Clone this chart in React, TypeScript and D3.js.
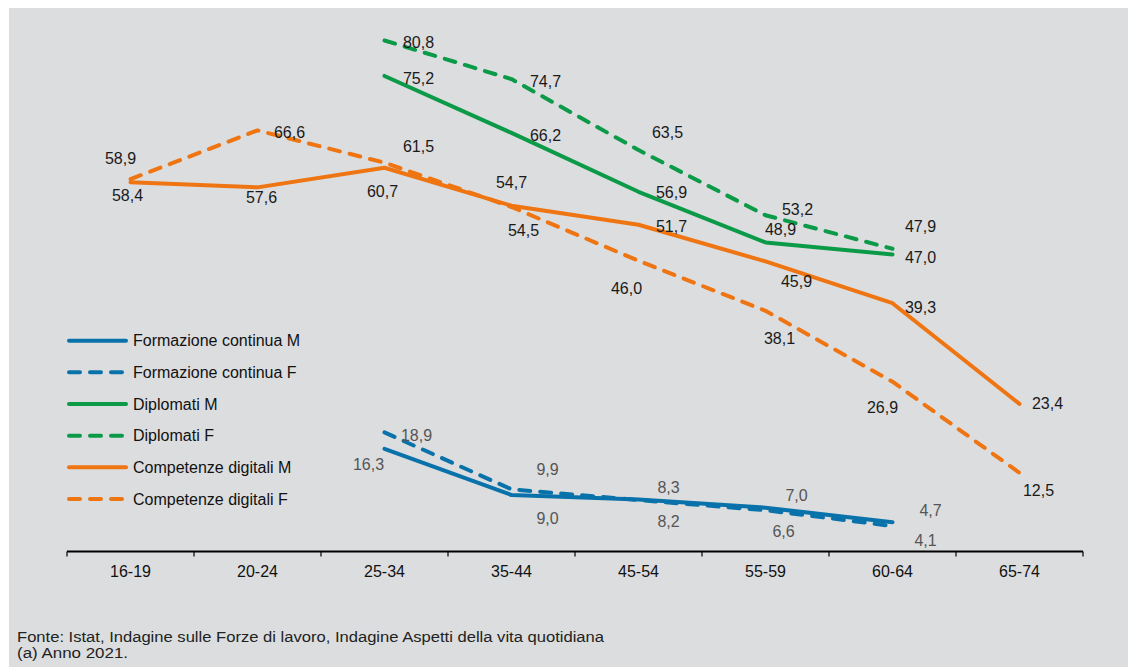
import React from "react";
import * as d3 from "d3";

const ageGroups = ["16-19", "20-24", "25-34", "35-44", "45-54", "55-59", "60-64", "65-74"];

// null = no value for that age group
const formazioneM = [null, null, 16.3, 9.0, 8.3, 7.0, 4.7, null];
const formazioneF = [null, null, 18.9, 9.9, 8.2, 6.6, 4.1, null];
const diplomatiM = [null, null, 75.2, 66.2, 56.9, 48.9, 47.0, null];
const diplomatiF = [null, null, 80.8, 74.7, 63.5, 53.2, 47.9, null];
const digitaliM = [58.4, 57.6, 60.7, 54.7, 51.7, 45.9, 39.3, 23.4];
const digitaliF = [58.9, 66.6, 61.5, 54.5, 46.0, 38.1, 26.9, 12.5];

const seriesNames = [
  "Formazione continua M",
  "Formazione continua F",
  "Diplomati M",
  "Diplomati F",
  "Competenze digitali M",
  "Competenze digitali F",
];

const footnotes = [
  "Fonte: Istat, Indagine sulle Forze di lavoro, Indagine Aspetti della vita quotidiana",
  "(a) Anno 2021.",
];

// label offsets (dx, dy) from each point, as placed in the original
const labelOffsets: Record<string, [number, number][]> = {
  formazioneM: [[0, 0], [0, 0], [-16, 16], [36, 23], [30, -12], [31, -12], [38, -12], [0, 0]],
  formazioneF: [[0, 0], [0, 0], [32, 3], [36, -20], [30, 21], [18, 21], [33, 14], [0, 0]],
  diplomatiM: [[0, 0], [0, 0], [34, 2], [34, 2], [33, 1], [15, -13], [28, 3], [0, 0]],
  diplomatiF: [[0, 0], [0, 0], [34, 2], [34, 2], [29, -18], [32, -6], [28, -22], [0, 0]],
  digitaliM: [[-3, 13], [4, 10], [-2, 24], [0, -23], [33, 2], [31, 20], [28, 4], [28, 0]],
  digitaliF: [[-10, -21], [32, 2], [34, -16], [12, 23], [-12, 28], [14, 28], [-10, 26], [19, 18]],
};

const BLUE = "#0a72aa";
const GREEN = "#0b9a47";
const ORANGE = "#ef7512";

const App = () => {
  const width = 1128;
  const height = 667;
  const font = "'Liberation Sans', Arial, sans-serif";

  const x = d3.scaleBand().domain(ageGroups).range([67, 1083]).paddingInner(0).paddingOuter(0);
  const y = d3.scaleLinear().domain([0, 80.8]).range([552, 40.5]);
  const cx = (i: number) => (x(ageGroups[i]) as number) + x.bandwidth() / 2;

  const series = [
    { key: "formazioneM", name: seriesNames[0], values: formazioneM, color: BLUE, dashed: false, labelColor: "#555" },
    { key: "formazioneF", name: seriesNames[1], values: formazioneF, color: BLUE, dashed: true, labelColor: "#555" },
    { key: "diplomatiM", name: seriesNames[2], values: diplomatiM, color: GREEN, dashed: false, labelColor: "#1a1a1a" },
    { key: "diplomatiF", name: seriesNames[3], values: diplomatiF, color: GREEN, dashed: true, labelColor: "#1a1a1a" },
    { key: "digitaliM", name: seriesNames[4], values: digitaliM, color: ORANGE, dashed: false, labelColor: "#1a1a1a" },
    { key: "digitaliF", name: seriesNames[5], values: digitaliF, color: ORANGE, dashed: true, labelColor: "#1a1a1a" },
  ];

  const line = d3
    .line<number | null>()
    .defined((d) => d !== null)
    .x((_, i) => cx(i))
    .y((d) => y(d as number));

  const fmt = (v: number) => v.toFixed(1).replace(".", ",");
  const axisY = 551.5;
  const ticks = ageGroups.map((g) => x(g) as number).concat([1083]);

  return (
    <svg
      width={width}
      height={height}
      style={{ position: "absolute", left: 0, top: 0 }}
      fontFamily={font}
    >
      <rect x={0} y={0} width={width} height={height} fill="#ffffff" />
      <rect x={9} y={8} width={width - 9} height={height - 8} fill="#dcdddf" />

      {/* lines */}
      {series.map((s) => (
        <path
          key={s.key}
          d={line(s.values) || ""}
          fill="none"
          stroke={s.color}
          strokeWidth={4}
          strokeLinecap="round"
          strokeLinejoin="round"
          strokeDasharray={s.dashed ? "11,10" : undefined}
        />
      ))}

      {/* value labels */}
      {series.map((s) =>
        s.values.map((v, i) =>
          v === null ? null : (
            <text
              key={s.key + i}
              x={cx(i) + labelOffsets[s.key][i][0]}
              y={y(v) + labelOffsets[s.key][i][1]}
              dy="0.35em"
              textAnchor="middle"
              fontSize={16}
              fill={s.labelColor}
            >
              {fmt(v)}
            </text>
          )
        )
      )}

      {/* x axis */}
      <line x1={67} x2={1083} y1={axisY} y2={axisY} stroke="#000" strokeWidth={2} />
      {ticks.map((t, i) => (
        <line key={i} x1={t} x2={t} y1={axisY} y2={axisY + 5} stroke="#000" strokeWidth={1.2} />
      ))}
      {ageGroups.map((g, i) => (
        <text key={g} x={cx(i)} y={577} textAnchor="middle" fontSize={16} fill="#111">
          {g}
        </text>
      ))}

      {/* legend */}
      {series.map((s, i) => {
        const ly = 340.7 + i * 31.65;
        return (
          <g key={s.key}>
            <line
              x1={69}
              x2={126}
              y1={ly}
              y2={ly}
              stroke={s.color}
              strokeWidth={4}
              strokeLinecap="round"
              strokeDasharray={s.dashed ? "11,10" : undefined}
            />
            <text x={133} y={ly} dy="0.35em" fontSize={16} fill="#111">
              {s.name}
            </text>
          </g>
        );
      })}

      {/* footnotes */}
      <text
        x={17}
        y={642}
        fontSize={15.5}
        fill="#222"
        fontFamily="'Liberation Sans Narrow', 'Arial Narrow', sans-serif"
        textLength={587}
        lengthAdjust="spacingAndGlyphs"
      >
        {footnotes[0]}
      </text>
      <text
        x={17}
        y={658}
        fontSize={15.5}
        fill="#222"
        fontFamily="'Liberation Sans Narrow', 'Arial Narrow', sans-serif"
        textLength={111}
        lengthAdjust="spacingAndGlyphs"
      >
        {footnotes[1]}
      </text>
    </svg>
  );
};

export default App;
